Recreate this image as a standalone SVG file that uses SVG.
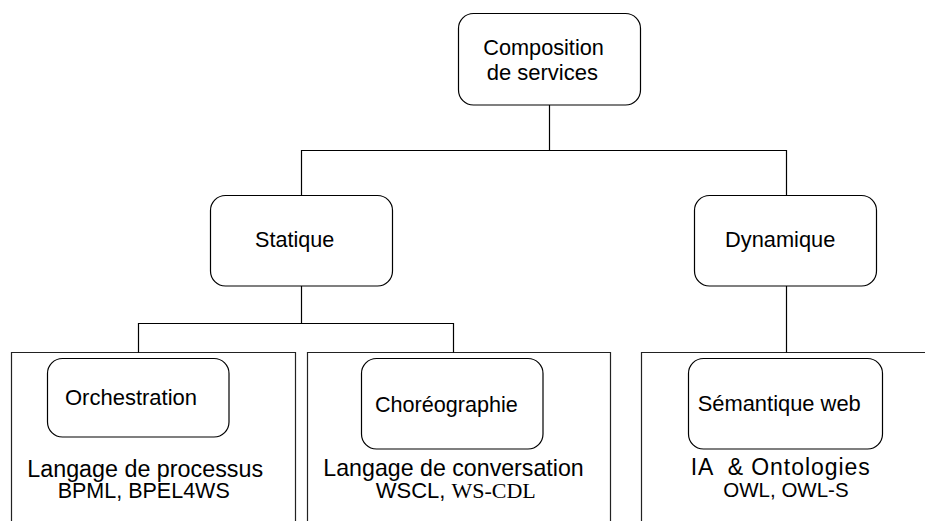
<svg xmlns="http://www.w3.org/2000/svg" width="925" height="521" viewBox="0 0 925 521">
<style>
  .box { fill: #fff; stroke: #000; stroke-width: 1.2; }
  .cont { fill: none; stroke: #222; stroke-width: 1.2; }
  .conn { fill: none; stroke: #000; stroke-width: 1.2; }
  text { font-family: "Liberation Sans", Arial, sans-serif; fill: #000; }
  .serif { font-family: "Liberation Serif", "Times New Roman", serif; }
</style>
<rect width="925" height="521" fill="#fff"/>
<g id="containers">
  <path class="cont" d="M11.5,521 V352.5 H295.5 V521"/>
  <path class="cont" d="M307.5,521 V352.5 H610.5 V521"/>
  <path class="cont" d="M641.5,521 V352.5 H925"/>
</g>
<g id="connectors">
  <path class="conn" d="M549.5,105 V150.5"/>
  <path class="conn" d="M301.5,195 V150.5 H786.5 V195"/>
  <path class="conn" d="M301.5,286 V323.5"/>
  <path class="conn" d="M138.5,352.5 V323.5 H453.5 V352.5"/>
  <path class="conn" d="M786.5,286 V352.5"/>
</g>
<g id="composition">
  <rect class="box" x="458.5" y="13.5" width="182" height="91.5" rx="15"/>
  <text x="483.3" y="55" font-size="21.7">Composition</text>
  <text x="486.7" y="80" font-size="22">de services</text>
</g>
<g id="statique">
  <rect class="box" x="210.5" y="195.5" width="182" height="90.5" rx="15"/>
  <text x="255" y="247.3" font-size="21.6">Statique</text>
</g>
<g id="dynamique">
  <rect class="box" x="694.5" y="195.5" width="182" height="90.5" rx="15"/>
  <text x="725" y="247.3" font-size="21.8">Dynamique</text>
</g>
<g id="orchestration">
  <rect class="box" x="47.5" y="358.5" width="181.5" height="78.5" rx="15"/>
  <text x="65" y="405" font-size="22">Orchestration</text>
  <text x="27.3" y="476.7" font-size="23.3">Langage de processus</text>
  <text x="57.7" y="497.7" font-size="21.5">BPML, BPEL4WS</text>
</g>
<g id="choregraphie">
  <rect class="box" x="361.5" y="358.5" width="181.5" height="90.5" rx="15"/>
  <text x="375" y="411.7" font-size="21.6">Choréographie</text>
  <text x="323.3" y="476.3" font-size="23.2">Langage de conversation</text>
  <text x="375.7" y="497.7" font-size="22">WSCL, <tspan class="serif">WS-CDL</tspan></text>
</g>
<g id="semantique">
  <rect class="box" x="688.5" y="358.5" width="194" height="90.5" rx="15"/>
  <text x="697.7" y="411" font-size="21.9">Sémantique web</text>
  <text x="690.7" y="475" font-size="23" xml:space="preserve" textLength="179" lengthAdjust="spacing">IA  &amp; Ontologies</text>
  <text x="723.3" y="496.7" font-size="20.5">OWL, OWL-S</text>
</g>
</svg>
